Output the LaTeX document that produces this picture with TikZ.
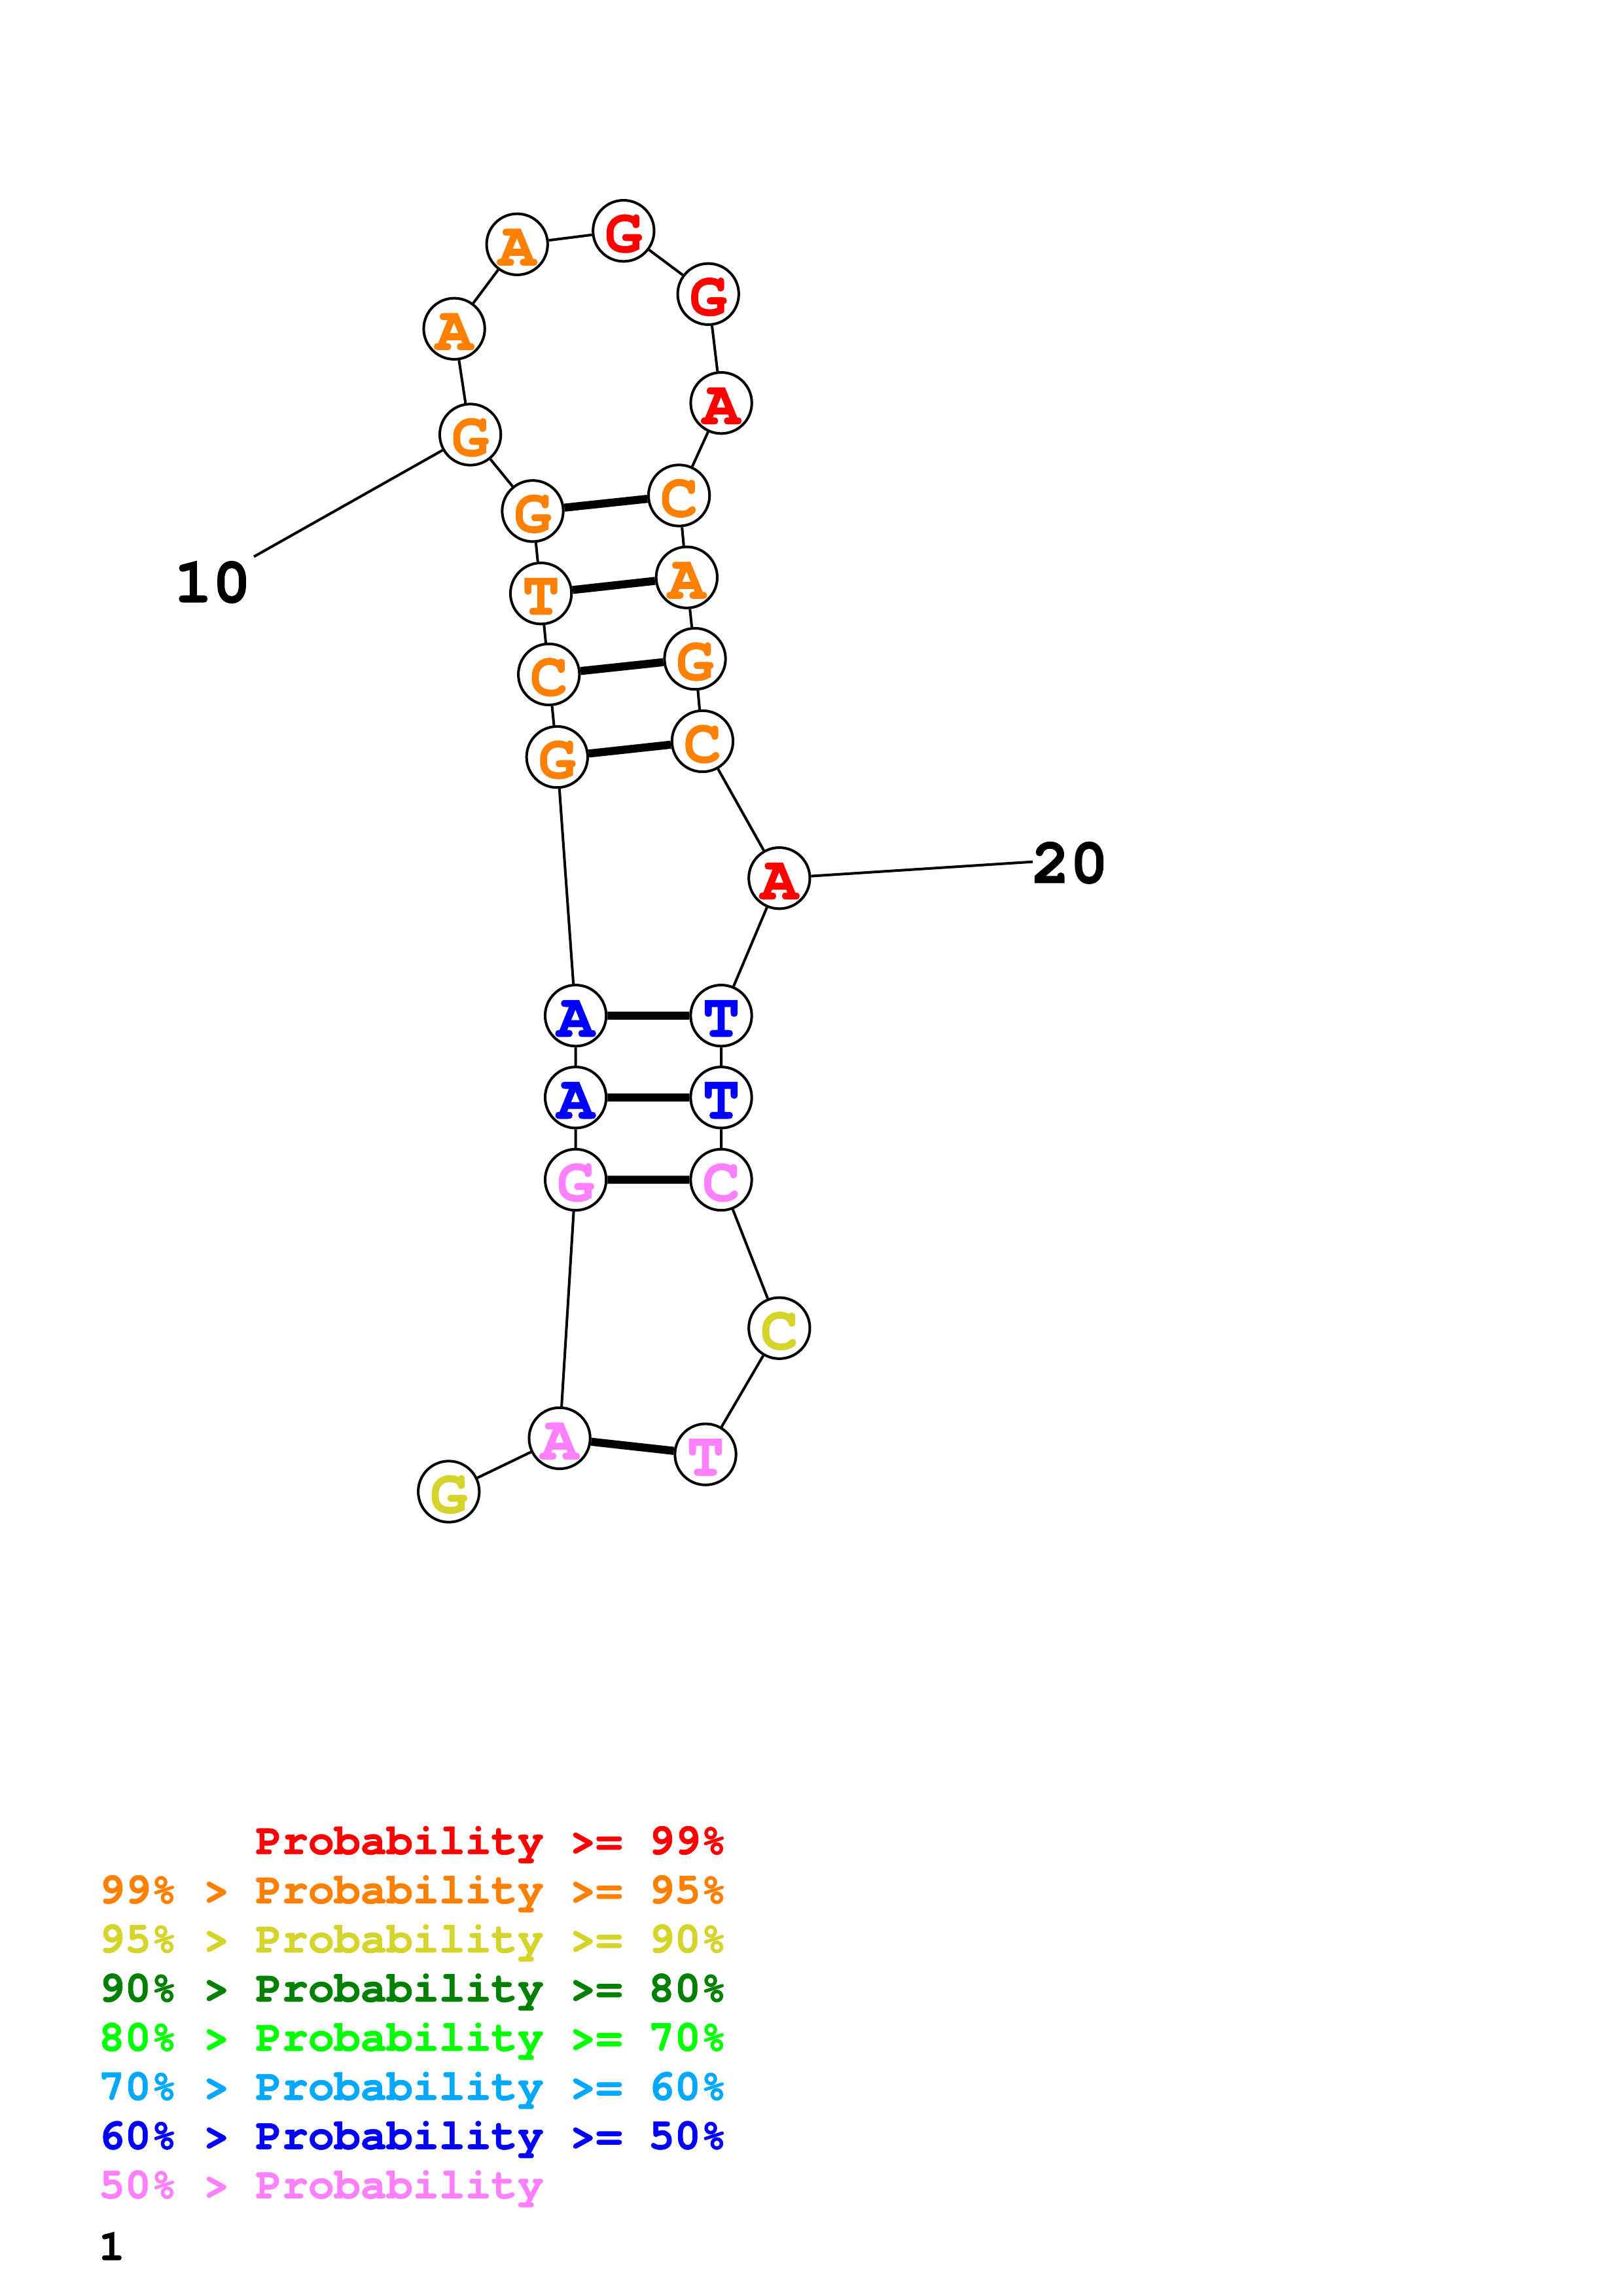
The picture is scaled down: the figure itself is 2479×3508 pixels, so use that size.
\documentclass[tikz,border=0pt]{standalone}
\usepackage{fontspec}
\newfontfamily\cour[FakeBold=1.3]{texgyrecursor-bold.otf}
\definecolor{pr}{HTML}{FF0000}
\definecolor{po}{HTML}{FF8000}
\definecolor{py}{HTML}{D4D42A}
\definecolor{pdg}{HTML}{008000}
\definecolor{pg}{HTML}{00FF00}
\definecolor{plb}{HTML}{00A8FF}
\definecolor{pb}{HTML}{0000FF}
\definecolor{pp}{HTML}{FF80FF}
\frenchspacing
\begin{document}
\begin{tikzpicture}[x=0.24pt,y=-0.24pt,
  nt/.style={circle,draw=black,fill=white,line width=0.96pt,minimum size=22.4pt,inner sep=0pt,
    font=\cour\fontsize{22.8}{24}\selectfont,text height=15.4pt,text depth=0pt},
  bb/.style={line width=0.96pt},
  bp/.style={line width=2.95pt},
  lab/.style={font=\cour\fontsize{23.5}{25}\selectfont,inner sep=0pt},
  leg/.style={font=\cour\fontsize{16}{18}\selectfont,anchor=base west,inner sep=0pt}]
\useasboundingbox (0,0) rectangle (2479,3508);
\fill[white] (0,0) rectangle (2479,3508);
% nucleotides
\node[nt,text=py]  (n1)  at (685.7,2279)   {G};
\node[nt,text=pp]  (n2)  at (855.1,2197.4) {A};
\node[nt,text=pp]  (n3)  at (879.6,1802.5) {G};
\node[nt,text=pb]  (n4)  at (879.6,1676.8) {A};
\node[nt,text=pb]  (n5)  at (879.6,1551.7) {A};
\node[nt,text=po]  (n6)  at (851.3,1156.6) {G};
\node[nt,text=po]  (n7)  at (838.7,1030.4) {C};
\node[nt,text=po]  (n8)  at (826.6,906.7)  {T};
\node[nt,text=po]  (n9)  at (814,780.8)    {G};
\node[nt,text=po]  (n10) at (718.6,664)    {G};
\node[nt,text=po]  (n11) at (694.1,502.3)  {A};
\node[nt,text=po]  (n12) at (790.2,373.3)  {A};
\node[nt,text=pr]  (n13) at (952.8,352.7)  {G};
\node[nt,text=pr]  (n14) at (1082.2,449.3) {G};
\node[nt,text=pr]  (n15) at (1102.1,615.7) {A};
\node[nt,text=po]  (n16) at (1037.6,757)   {C};
\node[nt,text=po]  (n17) at (1049.3,882.2) {A};
\node[nt,text=po]  (n18) at (1062,1006.6)  {G};
\node[nt,text=po]  (n19) at (1073.4,1132.5){C};
\node[nt,text=pr]  (n20) at (1190.8,1341.7){A};
\node[nt,text=pb]  (n21) at (1102,1551.7)  {T};
\node[nt,text=pb]  (n22) at (1102,1676.8)  {T};
\node[nt,text=pp]  (n23) at (1102,1802.5)  {C};
\node[nt,text=py]  (n24) at (1190.8,2029.2){C};
\node[nt,text=pp]  (n25) at (1078,2222.1)  {T};
% backbone
\draw[bb] (n1)--(n2) (n2)--(n3) (n3)--(n4) (n4)--(n5) (n5)--(n6) (n6)--(n7) (n7)--(n8)
  (n8)--(n9) (n9)--(n10) (n10)--(n11) (n11)--(n12) (n12)--(n13) (n13)--(n14) (n14)--(n15)
  (n15)--(n16) (n16)--(n17) (n17)--(n18) (n18)--(n19) (n19)--(n20) (n20)--(n21) (n21)--(n22)
  (n22)--(n23) (n23)--(n24) (n24)--(n25);
% pairs
\draw[bp] (n2)--(n25) (n3)--(n23) (n4)--(n22) (n5)--(n21) (n6)--(n19) (n7)--(n18) (n8)--(n17) (n9)--(n16);
% number labels
\coordinate (c10) at (388,850.5);
\coordinate (c20) at (1578,1316.7);
\draw[bb] (n10)--(c10);
\draw[bb] (n20)--(c20);
\node[lab] (t10) at (324.7,889.5) {10};
\node[lab] (t20) at (1634.9,1318.3) {20};
% legend
\node[leg,text=pr]  (l1) at (150,2832.7) {\phantom{99\% > }Probability >= 99\%};
\node[leg,text=po]  (l2) at (150,2907.8) {99\% > Probability >= 95\%};
\node[leg,text=py]  (l3) at (150,2982.9) {95\% > Probability >= 90\%};
\node[leg,text=pdg] (l4) at (150,3058.0) {90\% > Probability >= 80\%};
\node[leg,text=pg]  (l5) at (150,3133.1) {80\% > Probability >= 70\%};
\node[leg,text=plb] (l6) at (150,3208.2) {70\% > Probability >= 60\%};
\node[leg,text=pb]  (l7) at (150,3283.3) {60\% > Probability >= 50\%};
\node[leg,text=pp]  (l8) at (150,3358.4) {50\% > Probability};
\node[leg,text=black] (l9) at (150,3453) {1};
\end{tikzpicture}
\end{document}
